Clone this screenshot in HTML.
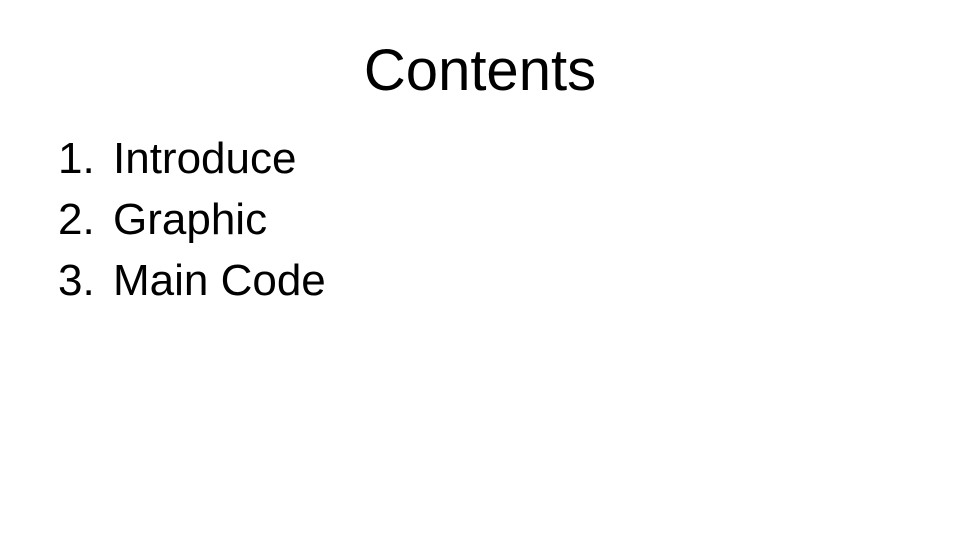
<!DOCTYPE html>
<html><head><meta charset="utf-8"><style>
html,body{margin:0;padding:0;background:#fff;}
body{width:960px;height:540px;position:relative;overflow:hidden;font-family:"Liberation Sans","Noto Sans CJK KR",sans-serif;color:#000;}
.t{position:absolute;left:0;width:960px;text-align:center;font-size:58px;line-height:1;top:42px;}
.i{position:absolute;font-size:44px;line-height:1;}
</style></head><body>
<div class="t">Contents</div>
<div class="i" style="left:58px;top:137px">1.</div><div class="i" style="left:113px;top:137px">Introduce</div>
<div class="i" style="left:58px;top:198px">2.</div><div class="i" style="left:113px;top:198px">Graphic</div>
<div class="i" style="left:58px;top:259px">3.</div><div class="i" style="left:113px;top:259px">Main Code</div>
</body></html>
